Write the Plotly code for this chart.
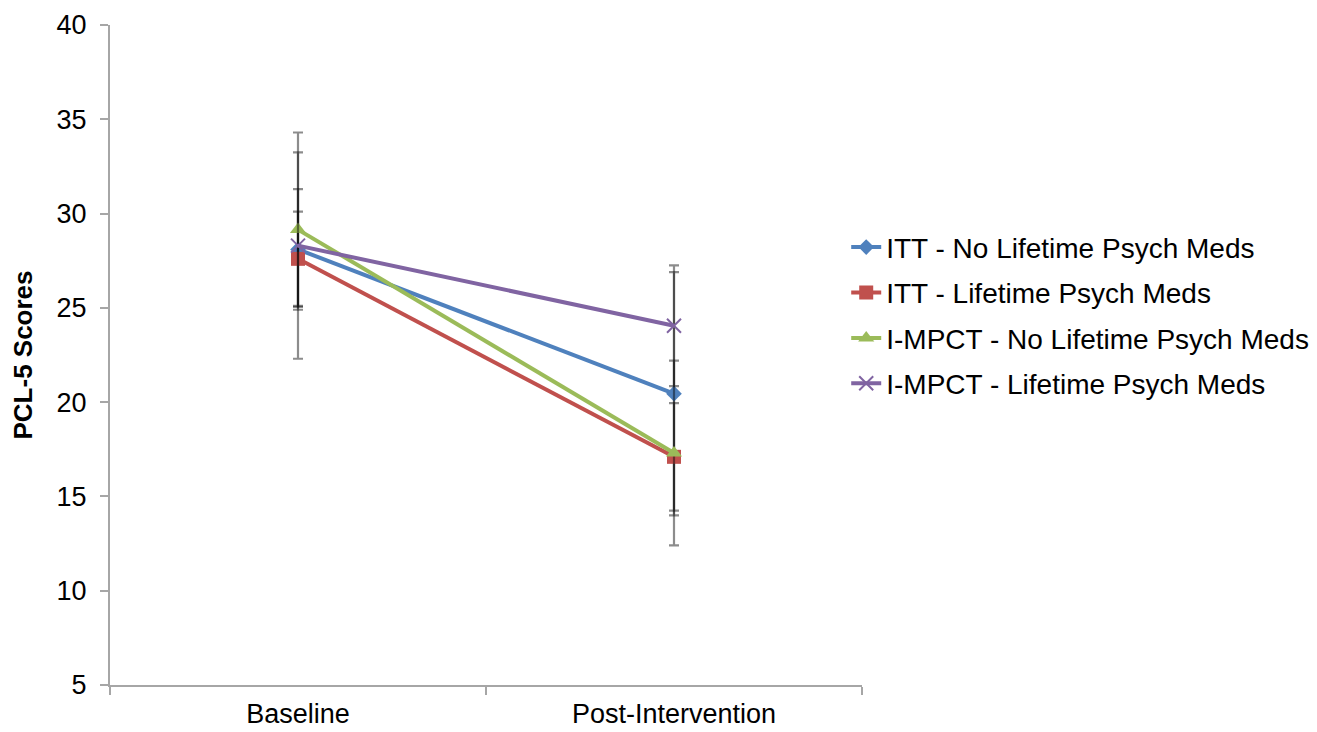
import plotly.graph_objects as go

categories = ["Baseline", "Post-Intervention"]

series_names = [
    "ITT - No Lifetime Psych Meds",
    "ITT - Lifetime Psych Meds",
    "I-MPCT - No Lifetime Psych Meds",
    "I-MPCT - Lifetime Psych Meds",
]
itt_no_meds = [28.1, 20.45]
itt_meds = [27.6, 17.1]
impct_no_meds = [29.15, 17.3]
impct_meds = [28.3, 24.05]

itt_no_meds_sd = [3.2, 6.45]
itt_meds_sd = [2.5, 2.85]
impct_no_meds_sd = [4.1, 4.9]
impct_meds_sd = [6.0, 3.2]

y_ticks = [5, 10, 15, 20, 25, 30, 35, 40]

colors = ["#4F81BD", "#C0504D", "#9BBB59", "#8064A2"]
symbols = ["diamond", "square", "triangle-up", "x-thin"]
sizes = [12, 14, 14, 14]

values = [itt_no_meds, itt_meds, impct_no_meds, impct_meds]
sds = [itt_no_meds_sd, itt_meds_sd, impct_no_meds_sd, impct_meds_sd]

fig = go.Figure()
for i, (name, vals, sd, c, s, sz) in enumerate(zip(series_names, values, sds, colors, symbols, sizes)):
    fig.add_trace(go.Scatter(
        x=categories, y=vals, name=name, mode="lines+markers",
        legendgroup=f"g{i}",
        line=dict(color=c, width=4),
        marker=dict(symbol=s, size=sz, color=c,
                    line=dict(color=c, width=2 if s == "x-thin" else 0)),
        error_y=dict(type="data", array=sd, visible=True,
                     color="rgba(0,0,0,0.45)", thickness=2.2, width=5),
    ))

axis_color = "#a6a6a6"
fig.update_layout(
    width=1309, height=724,
    margin=dict(l=102, r=455, t=17, b=47, autoexpand=False),
    paper_bgcolor="white", plot_bgcolor="white",
    font=dict(family="Liberation Sans, Arial, sans-serif", color="black"),
    showlegend=True,
    legend=dict(x=0.979, y=0.56, xanchor="left", yanchor="middle",
                font=dict(size=28), tracegroupgap=6, itemwidth=30,
                bgcolor="rgba(0,0,0,0)"),
    xaxis=dict(type="category", range=[-0.5, 1.5], tickson="boundaries",
               automargin=False,
               showline=True, linecolor=axis_color, linewidth=2,
               ticks="outside", ticklen=8, tickcolor=axis_color, tickwidth=2,
               showgrid=False, zeroline=False,
               tickfont=dict(size=27), ticklabelstandoff=4),
    yaxis=dict(range=[5, 40], tickvals=y_ticks, automargin=False,
               showline=True, linecolor=axis_color, linewidth=2,
               ticks="outside", ticklen=8, tickcolor=axis_color, tickwidth=2,
               showgrid=False, zeroline=False,
               tickfont=dict(size=27), ticklabelstandoff=8,
               title=dict(text="<b>PCL-5 Scores</b>", font=dict(size=26), standoff=18)),
)

fig.write_html("out.html")
